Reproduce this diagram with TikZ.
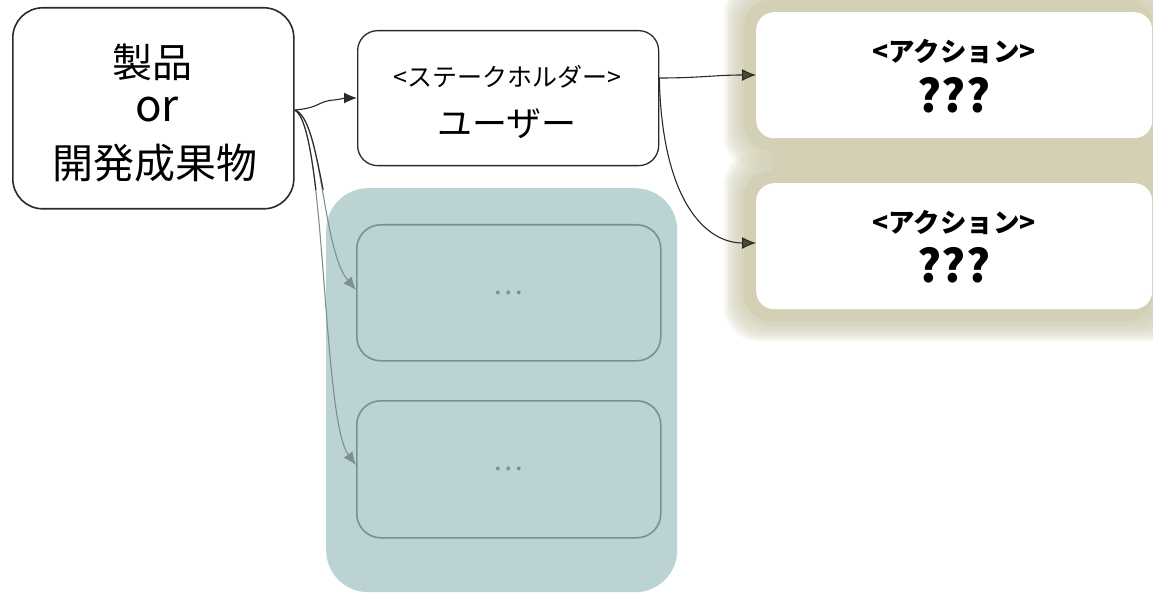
\documentclass[tikz,border=0pt]{standalone}
\usepackage{fontspec}
\setmainfont{Noto Sans CJK JP}
\usetikzlibrary{arrows.meta}
\definecolor{edge}{HTML}{2B2A25}
\definecolor{olivetip}{HTML}{4A4A32}
\definecolor{glow}{HTML}{D3D0B5}
\definecolor{teal}{HTML}{BCD3D3}
\definecolor{tealline}{HTML}{7C9090}
\tikzset{
  srcbox/.style={draw=edge, line width=1.6pt, rounded corners=30, fill=white, align=center},
  holderbox/.style={draw=edge, line width=1.3pt, rounded corners=20, fill=white, align=center},
  actbox/.style={fill=white, rounded corners=18, align=center},
  innerbox/.style={draw=tealline, line width=1.6pt, rounded corners=24, text=tealline},
  darkarrow/.style={draw=edge, line width=1.1pt, -{Latex[length=13pt,width=11pt]}},
  olivearrow/.style={draw=edge, line width=1.1pt, -{Latex[length=14pt,width=12pt,fill=olivetip]}},
  grayarrow/.style={draw=tealline, line width=1.1pt, -{Latex[length=13pt,width=11pt]}},
}
\begin{document}
\begin{tikzpicture}[x=1pt,y=-1pt]
\useasboundingbox (0,0) rectangle (1153,593);
\fill[white] (0,0) rectangle (1153,593);

% soft halo behind the two action boxes
\begin{scope}
\clip (0,0) rectangle (1153,593);
\foreach \e in {32,30,...,14}{
  \fill[glow, opacity=0.16, rounded corners=34]
    (756-\e,12-\e) rectangle (1152+\e,138+\e);
  \fill[glow, opacity=0.16, rounded corners=34]
    (756-\e,183-\e) rectangle (1152+\e,309+\e);
}
\fill[glow, rounded corners=26] (744,0) rectangle (1153,150);
\fill[glow, rounded corners=26] (744,171) rectangle (1153,321);
\fill[glow] (772,130) rectangle (1153,190);
\end{scope}

% teal group with two placeholder boxes
\node[fill=teal, rounded corners=42, minimum width=351, minimum height=404, anchor=north west,
      inner sep=0pt] (grp) at (326,188) {};
\node[innerbox, minimum width=304, minimum height=136, anchor=north west] (g1) at (356,224) {};
\node[innerbox, minimum width=304, minimum height=137, anchor=north west] (g2) at (356,400) {};
\node[text=tealline, font=\fontsize{28}{30}\selectfont] at (g1.center) {…};
\node[text=tealline, font=\fontsize{28}{30}\selectfont] at (g2.center) {…};

% source and stakeholder boxes
\node[srcbox, minimum width=281, minimum height=201, anchor=north west] (src) at (12,7) {};
\node[font=\fontsize{40}{44}\selectfont] at (152,62) {製品};
\node[font=\fontsize{44}{46}\selectfont] at (157,110) {or};
\node[font=\fontsize{41}{44}\selectfont] at (155,163) {開発成果物};

\node[holderbox, minimum width=301, minimum height=135, anchor=north west] (user) at (357,30) {};
\node[font=\fontsize{25}{28}\selectfont] at (507,77) {<ステークホルダー>};
\node[font=\fontsize{35}{38}\selectfont] at (507,124) {ユーザー};

% action boxes
\node[actbox, minimum width=396, minimum height=126, anchor=north west] (act1) at (756,12) {};
\node[actbox, minimum width=396, minimum height=126, anchor=north west] (act2) at (756,183) {};
\node[font=\bfseries\fontsize{26.5}{28}\selectfont] at (954,52) {<アクション>};
\node[font=\bfseries\fontsize{45}{46}\selectfont] at (954,95) {???};
\node[font=\bfseries\fontsize{26.5}{28}\selectfont] at (954,222) {<アクション>};
\node[font=\bfseries\fontsize{45}{46}\selectfont] at (954,265) {???};

\coordinate (s0) at (src.east |- 0,110);
\coordinate (u0) at (user.east |- 0,78);

% connectors from the source box
\draw[darkarrow] (s0) .. controls (320,108) and (318,101) .. (334,100)
  .. controls (342,99) and (345,98) .. (user.west |- 0,98);
\draw[grayarrow] (s0) .. controls (322,118) and (322,250) .. (g1.west |- 0,290);
\draw[grayarrow] (s0) .. controls (326,125) and (322,420) .. (g2.west |- 0,465);
\begin{scope}
  \clip (290,0) rectangle (340,190);
  \draw[edge, line width=1.1pt] (s0) .. controls (322,118) and (322,250) .. (g1.west |- 0,290);
  \draw[edge, line width=1.1pt] (s0) .. controls (326,125) and (322,420) .. (g2.west |- 0,465);
\end{scope}

% connectors from the stakeholder box
\draw[olivearrow] (u0) .. controls (700,78) and (715,75) .. (act1.west |- 0,75);
\draw[olivearrow] (u0) .. controls (662,200) and (705,243) .. (act2.west |- 0,243);
\end{tikzpicture}
\end{document}
